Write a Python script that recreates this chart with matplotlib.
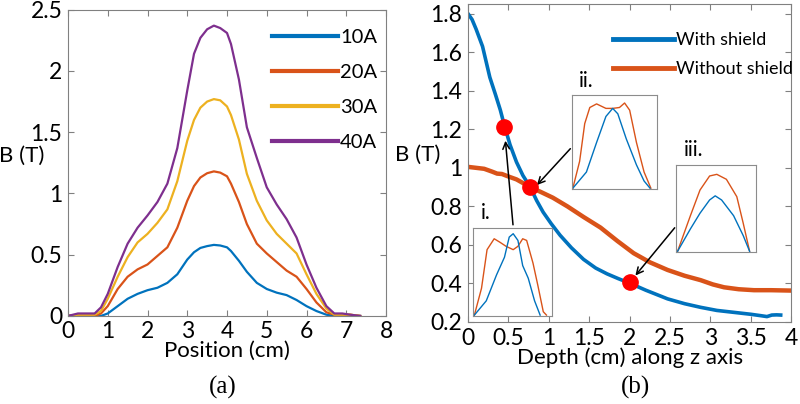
import matplotlib
matplotlib.use("Agg")
import matplotlib.pyplot as plt
from matplotlib.ticker import FuncFormatter

plt.rcParams["font.family"] = ["Lato", "DejaVu Sans"]

# ---- panel (a): field profile vs position ----
position = [0, 0.25, 0.5, 0.67, 0.83, 1.0, 1.25, 1.5, 1.75, 2.0, 2.25, 2.5, 2.75,
            3.0, 3.17, 3.33, 3.5, 3.67, 3.83, 4.0, 4.1, 4.3, 4.5, 4.75, 5.0, 5.25,
            5.5, 5.75, 6.0, 6.25, 6.5, 6.7, 6.9, 7.1, 7.35]
b_10a = [0, 0.01, 0.01, 0.0, 0.0, 0.02, 0.08, 0.14, 0.18, 0.21, 0.23, 0.27, 0.34,
         0.46, 0.52, 0.555, 0.57, 0.58, 0.575, 0.56, 0.53, 0.45, 0.36, 0.27, 0.22,
         0.19, 0.17, 0.13, 0.08, 0.04, 0.01, 0.0, 0.0, 0.0, 0.0]
b_20a = [0, 0.01, 0.01, 0.0, 0.02, 0.08, 0.22, 0.32, 0.38, 0.42, 0.49, 0.56, 0.72,
         0.94, 1.06, 1.13, 1.165, 1.18, 1.17, 1.14, 1.08, 0.93, 0.75, 0.59, 0.51,
         0.44, 0.37, 0.32, 0.22, 0.11, 0.03, 0.01, 0.01, 0.01, 0.0]
b_30a = [0, 0.01, 0.01, 0.01, 0.04, 0.14, 0.32, 0.48, 0.60, 0.67, 0.76, 0.87, 1.10,
         1.43, 1.60, 1.70, 1.75, 1.77, 1.76, 1.71, 1.64, 1.44, 1.16, 0.94, 0.78,
         0.67, 0.59, 0.51, 0.34, 0.18, 0.06, 0.01, 0.01, 0.01, 0.0]
b_40a = [0, 0.02, 0.02, 0.02, 0.07, 0.18, 0.40, 0.59, 0.72, 0.82, 0.93, 1.08, 1.37,
         1.84, 2.14, 2.27, 2.34, 2.37, 2.35, 2.31, 2.22, 1.93, 1.54, 1.29, 1.05,
         0.91, 0.79, 0.64, 0.42, 0.23, 0.08, 0.02, 0.02, 0.01, 0.0]
currents = ["10A", "20A", "30A", "40A"]

# ---- panel (b): field vs depth ----
depth_shield = [0, 0.05, 0.1, 0.18, 0.27, 0.34, 0.40, 0.45, 0.52, 0.60, 0.68, 0.77,
                0.85, 0.93, 1.03, 1.14, 1.28, 1.43, 1.58, 1.72, 1.86, 2.01, 2.2, 2.47,
                2.68, 2.88, 3.08, 3.29, 3.5, 3.62, 3.70, 3.76, 3.82, 3.87]
b_shield = [1.80, 1.77, 1.72, 1.63, 1.47, 1.38, 1.30, 1.22, 1.12, 1.03, 0.96, 0.90,
            0.83, 0.77, 0.71, 0.65, 0.585, 0.525, 0.48, 0.45, 0.425, 0.40, 0.365, 0.32,
            0.295, 0.276, 0.26, 0.25, 0.24, 0.233, 0.228, 0.236, 0.237, 0.236]
depth_noshield = [0, 0.1, 0.2, 0.3, 0.36, 0.42, 0.5, 0.6, 0.77, 0.9, 1.05, 1.23, 1.43,
                  1.64, 1.85, 2.05, 2.25, 2.47, 2.68, 2.88, 3.03, 3.17, 3.35, 3.54,
                  3.75, 4.0]
b_noshield = [1.005, 1.0, 0.995, 0.98, 0.97, 0.968, 0.955, 0.94, 0.90, 0.875, 0.845,
              0.80, 0.745, 0.69, 0.62, 0.557, 0.51, 0.47, 0.44, 0.417, 0.395, 0.38,
              0.37, 0.365, 0.365, 0.363]

# highlighted depths (i, ii, iii)
dot_depth = [0.45, 0.77, 2.0]
dot_b = [1.21, 0.90, 0.41]

# inset profiles (normalised box coordinates)
inset_i_orange_x = [0.02, 0.11, 0.18, 0.27, 0.34, 0.42, 0.51, 0.57, 0.63, 0.68, 0.76, 0.82, 0.89, 0.93]
inset_i_orange_y = [0.01, 0.33, 0.79, 0.92, 0.88, 0.83, 0.79, 0.83, 0.92, 0.90, 0.63, 0.37, 0.05, 0.01]
inset_i_blue_x = [0.02, 0.17, 0.30, 0.40, 0.46, 0.51, 0.57, 0.63, 0.70, 0.78, 0.85]
inset_i_blue_y = [0.01, 0.18, 0.49, 0.70, 0.94, 0.98, 0.90, 0.60, 0.45, 0.18, 0.01]

inset_ii_orange_x = [0.01, 0.09, 0.15, 0.21, 0.29, 0.40, 0.48, 0.56, 0.62, 0.68, 0.76, 0.85, 0.93]
inset_ii_orange_y = [0.01, 0.31, 0.73, 0.91, 0.95, 0.90, 0.90, 0.91, 0.96, 0.88, 0.52, 0.19, 0.01]
inset_ii_blue_x = [0.01, 0.17, 0.29, 0.40, 0.48, 0.54, 0.64, 0.76, 0.85, 0.92]
inset_ii_blue_y = [0.01, 0.19, 0.52, 0.81, 0.90, 0.84, 0.56, 0.27, 0.09, 0.01]

inset_iii_orange_x = [0.02, 0.18, 0.30, 0.42, 0.51, 0.63, 0.76, 0.84, 0.92]
inset_iii_orange_y = [0.01, 0.44, 0.75, 0.92, 0.94, 0.88, 0.67, 0.35, 0.01]
inset_iii_blue_x = [0.02, 0.18, 0.30, 0.42, 0.49, 0.57, 0.72, 0.84, 0.92]
inset_iii_blue_y = [0.01, 0.28, 0.47, 0.63, 0.68, 0.63, 0.44, 0.20, 0.01]

BLUE = "#0072BD"
ORANGE = "#D95319"
YELLOW = "#EDB120"
PURPLE = "#7E2F8E"
SPINE = "0.5"
TICK_FS = 16.5


def style_axes(ax):
    for sp in ax.spines.values():
        sp.set_color(SPINE)
        sp.set_linewidth(0.8)
    ax.tick_params(direction="in", top=True, right=True, length=4, color=SPINE,
                   labelsize=TICK_FS, pad=4)
    fmt = FuncFormatter(lambda v, _: f"{v:g}")
    ax.xaxis.set_major_formatter(fmt)
    ax.yaxis.set_major_formatter(fmt)


fig = plt.figure(figsize=(8, 4.04), dpi=100)

# ---------------- (a) ----------------
ax1 = fig.add_axes([0.085, 0.218, 0.3975, 0.758])
lines = []
for vals, col in zip([b_10a, b_20a, b_30a, b_40a], [BLUE, ORANGE, YELLOW, PURPLE]):
    (ln,) = ax1.plot(position, vals, color=col, lw=1.6)
    lines.append(ln)
ax1.set_xlim(0, 8)
ax1.set_ylim(0, 2.5)
ax1.set_xticks(range(0, 9))
ax1.set_yticks([0, 0.5, 1, 1.5, 2, 2.5])
style_axes(ax1)
ax1.set_xlabel("Position (cm)", fontsize=16, labelpad=-1)
ax1.set_ylabel("B (T)", fontsize=16, rotation=0)
ax1.yaxis.set_label_coords(-0.145, 0.49)
leg1 = ax1.legend(lines, currents, loc="upper left", bbox_to_anchor=(0.615, 0.965),
                  frameon=False, fontsize=14.5, handlelength=3.3, handletextpad=0.1,
                  labelspacing=0.9, borderaxespad=0)
for h in leg1.get_lines():
    h.set_linewidth(3)

# ---------------- (b) ----------------
ax2 = fig.add_axes([0.585, 0.203, 0.404, 0.787])
(l_s,) = ax2.plot(depth_shield, b_shield, color=BLUE, lw=2.6)
(l_n,) = ax2.plot(depth_noshield, b_noshield, color=ORANGE, lw=3.2)
ax2.plot(dot_depth, dot_b, "o", color="#FF0000", ms=11, mec="#FF0000", zorder=5)
ax2.set_xlim(0, 4)
ax2.set_ylim(0.2, 1.85)
ax2.set_xticks([0, 0.5, 1, 1.5, 2, 2.5, 3, 3.5, 4])
ax2.set_yticks([0.2, 0.4, 0.6, 0.8, 1.0, 1.2, 1.4, 1.6, 1.8])
style_axes(ax2)
ax2.set_xlabel("Depth (cm) along z axis", fontsize=16, labelpad=-1)
ax2.set_ylabel("B (T)", fontsize=16, rotation=0)
ax2.yaxis.set_label_coords(-0.155, 0.494)
leg2 = ax2.legend([l_s, l_n], ["With shield", "Without shield"], loc="upper left",
                  bbox_to_anchor=(0.425, 0.935), frameon=False, fontsize=13,
                  handlelength=3.4, handletextpad=0.1, labelspacing=0.75,
                  borderaxespad=0)
for h in leg2.get_lines():
    h.set_linewidth(3.5)

# arrows from the insets to the highlighted points
arrow_kw = dict(arrowstyle="->", color="black", lw=1.1, mutation_scale=12)
ax2.annotate("", xy=(0.46, 1.155), xytext=(0.56, 0.69), arrowprops=arrow_kw)
ax2.annotate("", xy=(0.83, 0.90), xytext=(1.29, 1.11), arrowprops=arrow_kw)
ax2.annotate("", xy=(2.05, 0.43), xytext=(2.58, 0.70), arrowprops=arrow_kw)

# insets
insets = [
    ([0.591, 0.218, 0.099, 0.218], inset_i_orange_x, inset_i_orange_y,
     inset_i_blue_x, inset_i_blue_y, "i.", (0.10, 1.05)),
    ([0.715, 0.532, 0.106, 0.233], inset_ii_orange_x, inset_ii_orange_y,
     inset_ii_blue_x, inset_ii_blue_y, "ii.", (0.08, 1.04)),
    ([0.845, 0.376, 0.100, 0.215], inset_iii_orange_x, inset_iii_orange_y,
     inset_iii_blue_x, inset_iii_blue_y, "iii.", (0.10, 1.06)),
]
for rect, ox, oy, bx, by, lab, lab_pos in insets:
    ia = fig.add_axes(rect)
    ia.plot(ox, oy, color=ORANGE, lw=1.0)
    ia.plot(bx, by, color=BLUE, lw=1.0)
    ia.set_xlim(0, 1)
    ia.set_ylim(0, 1.05)
    ia.set_xticks([])
    ia.set_yticks([])
    for sp in ia.spines.values():
        sp.set_color("0.55")
        sp.set_linewidth(0.8)
    ia.text(lab_pos[0], lab_pos[1], lab, transform=ia.transAxes, fontsize=15,
            ha="left", va="bottom")

# panel captions
fig.text(0.279, 0.04, "(a)", family="Liberation Serif", fontsize=18, ha="center", va="center")
fig.text(0.794, 0.04, "(b)", family="Liberation Serif", fontsize=18, ha="center", va="center")

fig.savefig("out.png", dpi=100)
